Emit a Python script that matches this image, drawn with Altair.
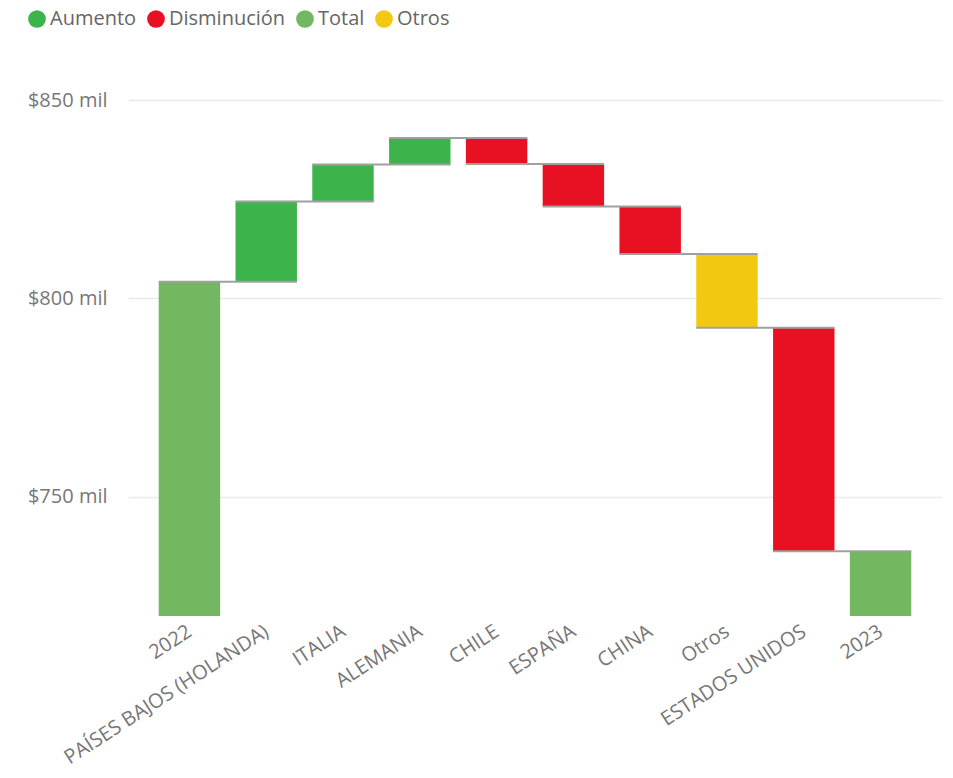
import altair as alt
import pandas as pd

categories = ["2022", "PAÍSES BAJOS (HOLANDA)", "ITALIA", "ALEMANIA", "CHILE",
              "ESPAÑA", "CHINA", "Otros", "ESTADOS UNIDOS", "2023"]
kinds = ["Total", "Aumento", "Aumento", "Aumento", "Disminución",
         "Disminución", "Disminución", "Otros", "Disminución", "Total"]
# values: totals are absolute, others are changes (mil)
values = [804.2, 20.2, 9.35, 6.65, -6.5, -10.7, -12.0, -18.6, -56.3, 736.3]

legend_order = ["Aumento", "Disminución", "Total", "Otros"]
legend_colors = ["#3CB44B", "#E81123", "#73B761", "#F2C811"]

rows = []
running = 0.0
for c, k, v in zip(categories, kinds, values):
    if k == "Total":
        start, end = 0.0, v
        running = v
    else:
        start, end = running, running + v
        running = end
    rows.append({"cat": c, "kind": k, "start": start, "end": end})
df = pd.DataFrame(rows)

conn = pd.DataFrame({
    "cat": categories[:-1],
    "next": categories[1:],
    "level": [r["end"] for r in rows[:-1]],
})

font = "Open Sans"
label_color = "#777777"

x_scale = alt.Scale(domain=categories, paddingInner=0.2, paddingOuter=0.4)
y_scale = alt.Scale(domain=[720, 850], nice=False, zero=False, clamp=True)

bars = alt.Chart(df).mark_bar().encode(
    x=alt.X("cat:N", scale=x_scale, sort=categories, title=None,
            axis=alt.Axis(labelAngle=-33, labelAlign="right", labelBaseline="top",
                          labelFontSize=20, labelColor=label_color, labelFont=font,
                          labelPadding=5, labelOffset=-5, domain=False, ticks=False,
                          grid=False, labelOverlap=False, labelLimit=400)),
    y=alt.Y("start:Q", scale=y_scale, title=None,
            axis=alt.Axis(values=[750, 800, 850],
                          labelExpr="'$' + datum.value + ' mil'",
                          labelFontSize=20, labelColor=label_color, labelFont=font,
                          labelPadding=21, domain=False, ticks=False,
                          grid=True, gridColor="#EAEAEA", gridWidth=1.5)),
    y2="end:Q",
    color=alt.Color("kind:N",
                    scale=alt.Scale(domain=legend_order, range=legend_colors),
                    legend=alt.Legend(title=None, orient="none", direction="horizontal",
                                      legendX=-101, legendY=-91,
                                      symbolType="circle", symbolSize=314,
                                      symbolStrokeWidth=0, labelFontSize=20,
                                      labelFont=font, labelColor="#666666",
                                      labelOffset=3, columnPadding=9, labelLimit=300)),
)

rules = alt.Chart(conn).mark_rule(color="#A0A0A0", strokeWidth=2).encode(
    x=alt.X("cat:N", scale=x_scale, sort=categories, bandPosition=0),
    x2=alt.X2("next:N", bandPosition=1),
    y=alt.Y("level:Q", scale=y_scale),
)

chart = alt.layer(bars, rules).properties(
    width=814, height=516,
    autosize=alt.AutoSizeParams(type="none"),
    padding={"left": 120, "top": 92, "right": 2, "bottom": 154},
).configure_view(stroke=None)

chart.save("out.html", embed_options={"renderer": "svg", "actions": False})
